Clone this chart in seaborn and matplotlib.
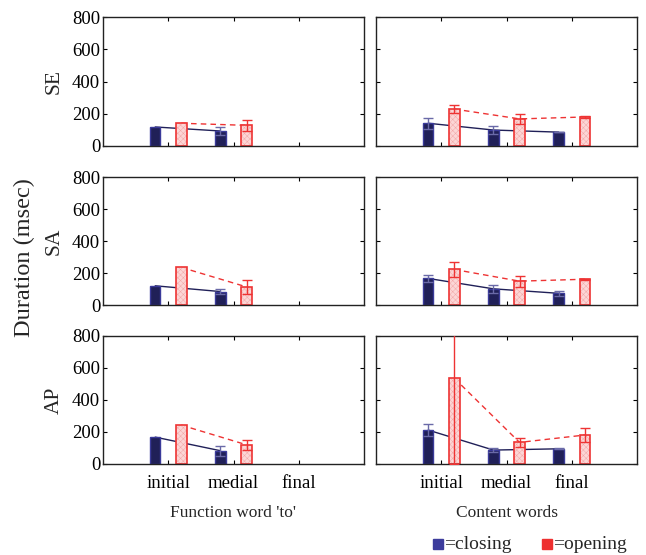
import matplotlib
matplotlib.use("Agg")
import matplotlib.pyplot as plt
import seaborn as sns
import pandas as pd
import numpy as np
from matplotlib.patches import Rectangle

sns.set_style("ticks")
plt.rcParams['font.family'] = ['Liberation Serif', 'DejaVu Serif']
plt.rcParams['hatch.linewidth'] = 0.35

categories = ['initial', 'medial', 'final']
rows = ['SE', 'SA', 'AP']
col_titles = ["Function word 'to'", 'Content words']

# Function word 'to' (initial, medial)
se_func_closing = [118, 93]
se_func_closing_err = [0, 25]
se_func_opening = [141, 128]
se_func_opening_err = [0, 33]
sa_func_closing = [120, 84]
sa_func_closing_err = [0, 17]
sa_func_opening = [235, 113]
sa_func_opening_err = [0, 44]
ap_func_closing = [168, 83]
ap_func_closing_err = [0, 31]
ap_func_opening = [243, 120]
ap_func_opening_err = [0, 30]

# Content words (initial, medial, final)
se_cont_closing = [141, 99, 86]
se_cont_closing_err = [35, 27, 2]
se_cont_opening = [229, 168, 180]
se_cont_opening_err = [25, 30, 5]
sa_cont_closing = [166, 101, 73]
sa_cont_closing_err = [23, 25, 15]
sa_cont_opening = [222, 149, 161]
sa_cont_opening_err = [49, 34, 4]
ap_cont_closing = [212, 87, 95]
ap_cont_closing_err = [35, 10, 3]
ap_cont_opening = [536, 135, 181]
ap_cont_opening_err = [536, 27, 41]

panel_data = {
    ('SE', 0): (se_func_closing, se_func_closing_err, se_func_opening, se_func_opening_err),
    ('SA', 0): (sa_func_closing, sa_func_closing_err, sa_func_opening, sa_func_opening_err),
    ('AP', 0): (ap_func_closing, ap_func_closing_err, ap_func_opening, ap_func_opening_err),
    ('SE', 1): (se_cont_closing, se_cont_closing_err, se_cont_opening, se_cont_opening_err),
    ('SA', 1): (sa_cont_closing, sa_cont_closing_err, sa_cont_opening, sa_cont_opening_err),
    ('AP', 1): (ap_cont_closing, ap_cont_closing_err, ap_cont_opening, ap_cont_opening_err),
}

close_face = '#202058'
close_edge = '#3a3a9a'
open_face = '#fcd6d6'
open_hatch = '#f2a8a8'
open_edge = '#ee3333'

W, H = 646, 555
fig = plt.figure(figsize=(W / 100, H / 100), dpi=100)

col_x = [103, 376]
col_w = 261
row_y = [(17, 146), (177, 305), (336, 464)]

off = 0.2
bw = 0.16

for ri, rname in enumerate(rows):
    for ci in range(2):
        top, bot = row_y[ri]
        ax = fig.add_axes([col_x[ci] / W, 1 - bot / H, col_w / W, (bot - top) / H])
        c, ce, o, oe = panel_data[(rname, ci)]
        n = len(c)
        xs = np.arange(1, n + 1)
        df = pd.DataFrame({'x': np.concatenate([xs - off, xs + off]),
                           'v': c + o,
                           'kind': ['closing'] * n + ['opening'] * n})
        # connecting lines
        sns.lineplot(data=df[df.kind == 'closing'], x='x', y='v', ax=ax,
                     color=close_face, lw=1.0, zorder=1, legend=False)
        sns.lineplot(data=df[df.kind == 'opening'], x='x', y='v', ax=ax,
                     color=open_edge, lw=1.0, ls=(0, (4, 3)), zorder=1, legend=False)
        ax.bar(xs - off, c, width=bw, color=close_face, edgecolor=close_edge,
               linewidth=1.0, zorder=2)
        ax.bar(xs + off, o, width=bw, color=open_face, edgecolor=open_hatch,
               linewidth=0, zorder=2, hatch='xxxxxx')
        ax.bar(xs + off, o, width=bw, color='none', edgecolor=open_edge,
               linewidth=1.2, zorder=2.5)
        cm = np.array(ce) > 0
        om = np.array(oe) > 0
        ax.errorbar((xs - off)[cm], np.array(c)[cm], yerr=np.array(ce)[cm], fmt='none',
                    ecolor='#6a6aa8', elinewidth=1.0, capsize=3.5, capthick=1.0, zorder=3)
        ax.errorbar((xs + off)[om], np.array(o)[om], yerr=np.array(oe)[om], fmt='none',
                    ecolor=open_edge, elinewidth=1.0, capsize=3.5, capthick=1.0, zorder=3)
        ax.set_xlim(0, 4)
        ax.set_ylim(0, 800)
        ax.set_xticks([1, 2, 3])
        ax.set_yticks([0, 200, 400, 600, 800])
        ax.tick_params(direction='in', top=True, right=True, length=3,
                       width=0.8, labelsize=13.5, colors='black', pad=2)
        for s in ax.spines.values():
            s.set_linewidth(1.0)
            s.set_color('#222222')
        ax.set_xlabel('')
        ax.set_ylabel('')
        if ri == 2:
            ax.set_xticklabels(categories, fontsize=13.5)
            ax.tick_params(axis='x', pad=8)
        else:
            ax.set_xticklabels([])
        if ci == 0:
            ax.set_ylabel(rname, fontsize=15.5, labelpad=6)
        else:
            ax.set_yticklabels([])

fig.text(233 / W, 1 - 513 / H, col_titles[0], ha='center', va='center', fontsize=12.5)
fig.text(507 / W, 1 - 513 / H, col_titles[1], ha='center', va='center', fontsize=12.5)
fig.text(24 / W, 1 - 258 / H, 'Duration (msec)', rotation=90, ha='center',
         va='center', fontsize=17.5)

# legend
fig.patches.append(Rectangle((433 / W, 1 - 549 / H), 10 / W, 10 / H,
                             transform=fig.transFigure, color='#3c3c9c'))
fig.text(444 / W, 1 - 549 / H, '=closing', ha='left', va='baseline', fontsize=14)
fig.patches.append(Rectangle((542 / W, 1 - 549 / H), 10 / W, 10 / H,
                             transform=fig.transFigure, color='#ee3030'))
fig.text(553 / W, 1 - 549 / H, '=opening', ha='left', va='baseline', fontsize=14)

fig.savefig('out.png', dpi=100)
